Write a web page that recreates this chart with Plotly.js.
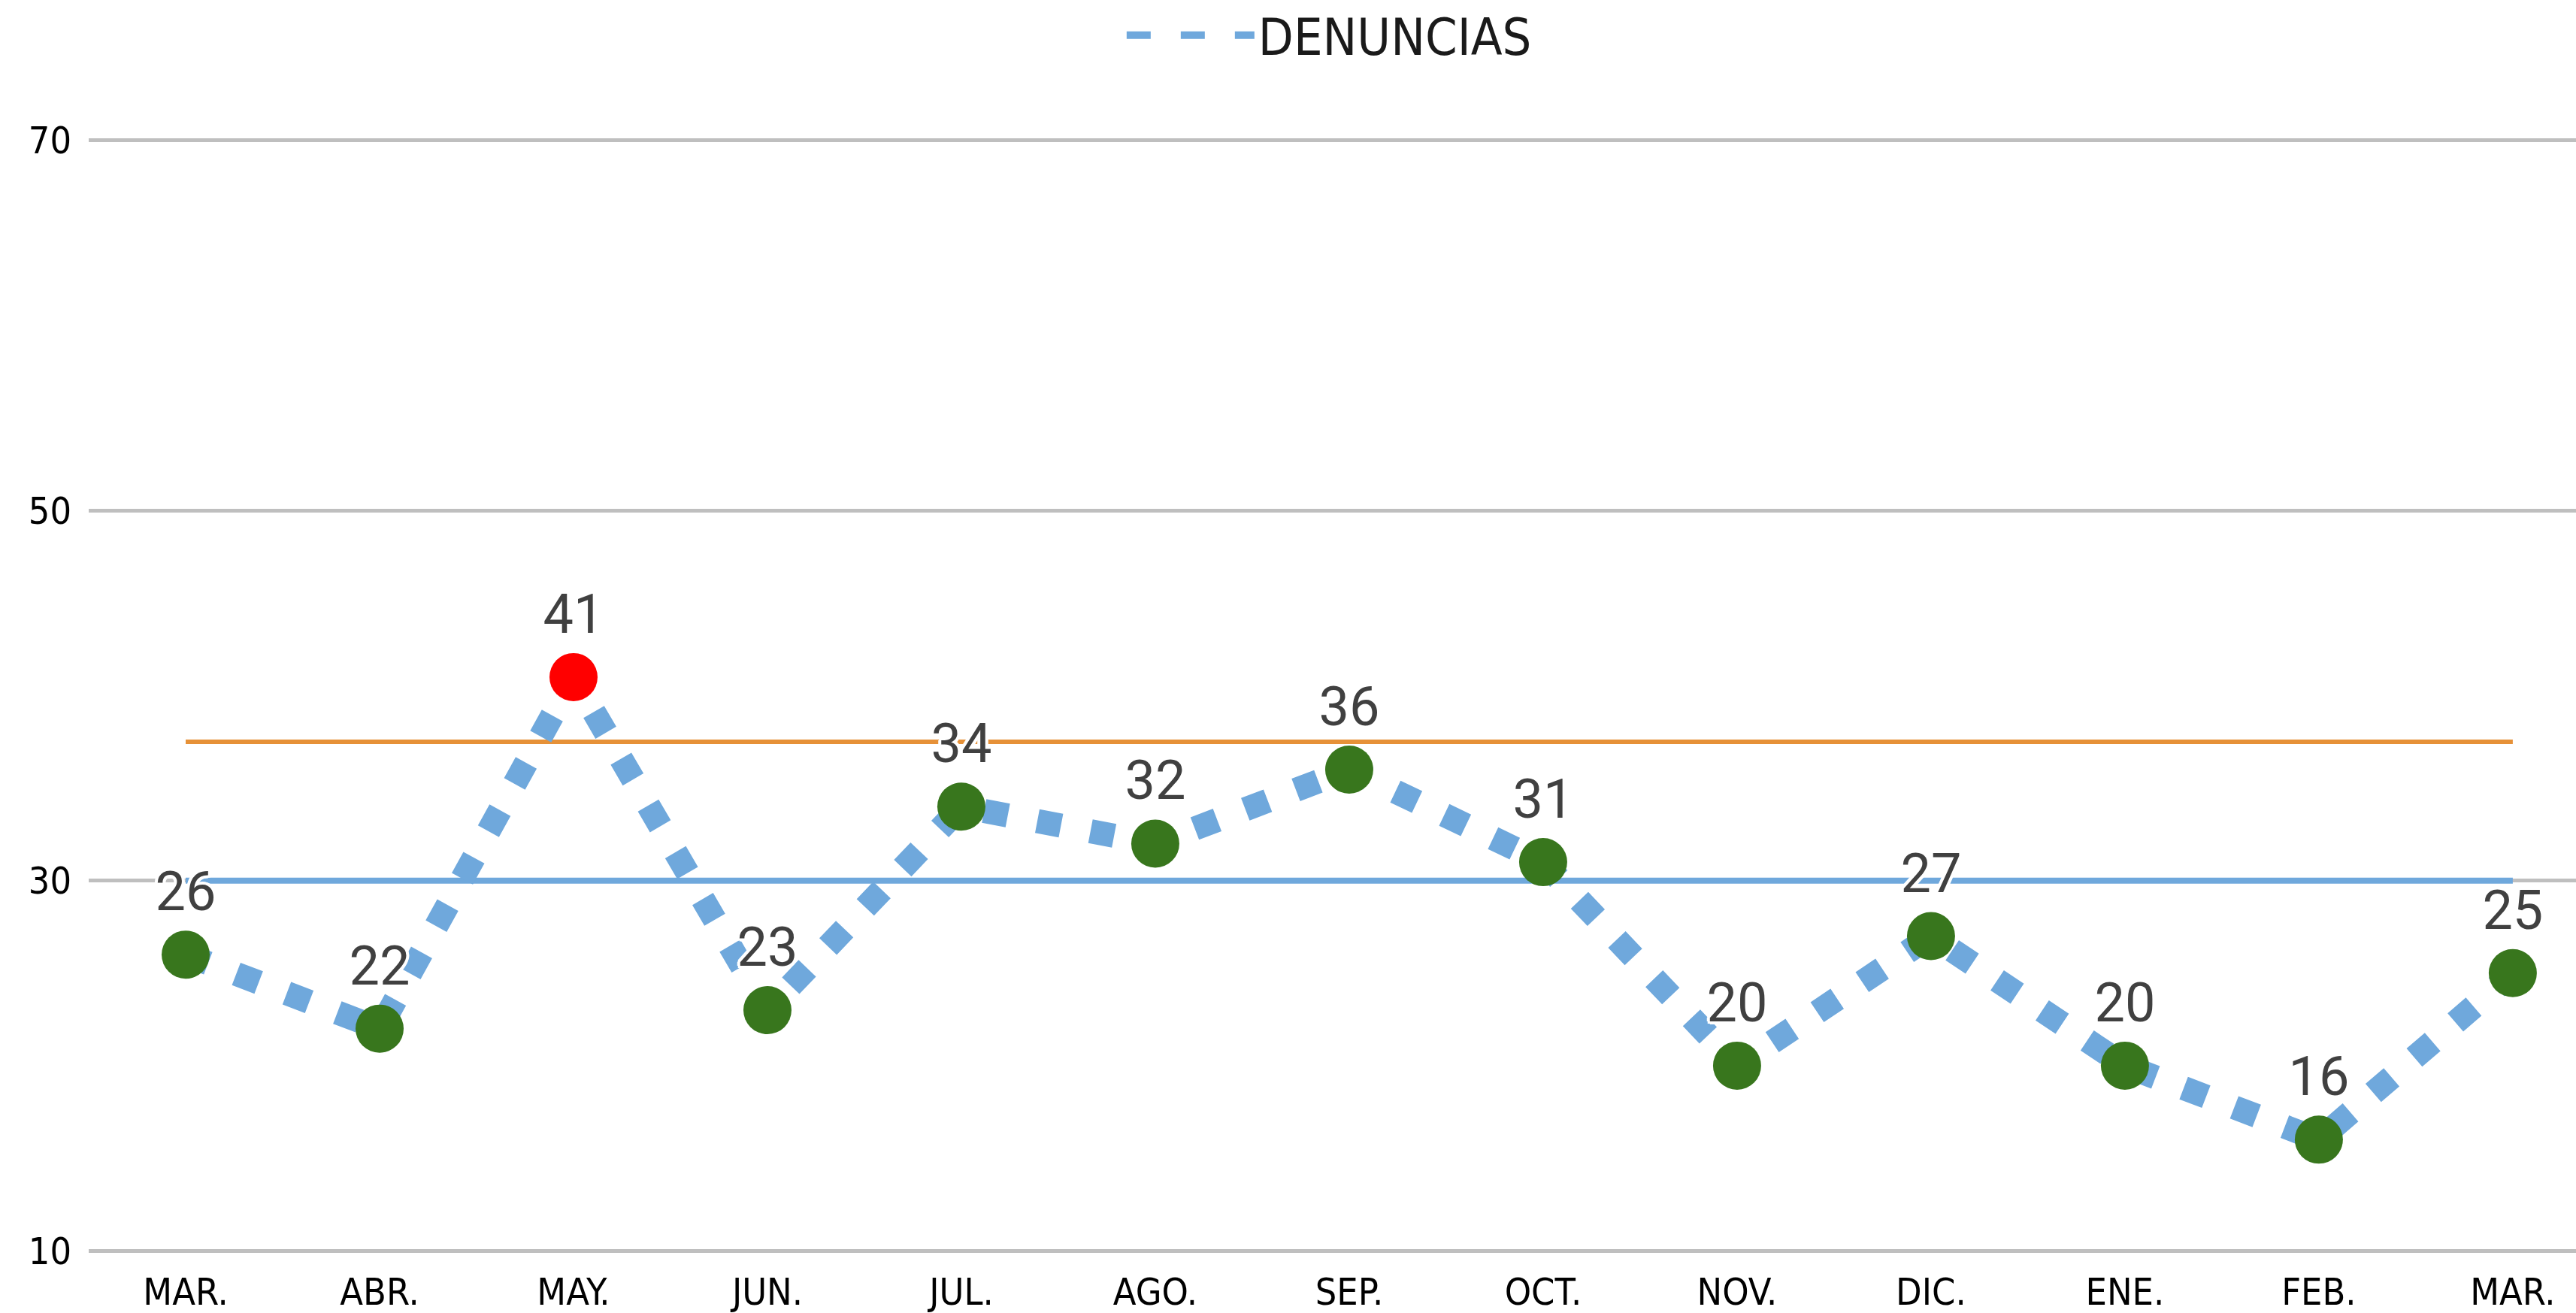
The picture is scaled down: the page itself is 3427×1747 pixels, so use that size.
<!DOCTYPE html>
<html>
<head>
<meta charset="utf-8">
<script src="https://cdn.plot.ly/plotly-3.0.1.min.js"></script>
<style>
  html, body { margin: 0; padding: 0; background: #ffffff; }
  #chart { width: 3427px; height: 1747px; }
</style>
</head>
<body>
<div id="chart"></div>
<script>
// ---- data ----
const categories = ["MAR.", "ABR.", "MAY.", "JUN.", "JUL.", "AGO.", "SEP.", "OCT.", "NOV.", "DIC.", "ENE.", "FEB.", "MAR."];
const denuncias = [26, 22, 41, 23, 34, 32, 36, 31, 20, 27, 20, 16, 25];
const lineaMedia = 30;      // blue reference line
const lineaLimite = 37.5;   // orange limit line
const yTicks = [10, 30, 50, 70];
const seriesName = "DENUNCIAS";

// ---- styling ----
const xIdx = categories.map((c, i) => i);
const pointColors = denuncias.map(v => v > lineaLimite ? "#FF0000" : "#38761D");
const tickFont = { family: "DejaVu Sans Condensed, DejaVu Sans, sans-serif", size: 50, color: "#000000" };
const halo = "4px 0 0 #fff, -4px 0 0 #fff, 0 4px 0 #fff, 0 -4px 0 #fff, 3px 3px 0 #fff, -3px -3px 0 #fff, 3px -3px 0 #fff, -3px 3px 0 #fff";

const traces = [
  {
    x: xIdx, y: xIdx.map(() => lineaMedia),
    type: "scatter", mode: "lines",
    line: { color: "#6FA8DC", width: 8 },
    showlegend: false, hoverinfo: "skip"
  },
  {
    x: xIdx, y: xIdx.map(() => lineaLimite),
    type: "scatter", mode: "lines",
    line: { color: "#E69138", width: 6 },
    showlegend: false, hoverinfo: "skip"
  },
  {
    x: xIdx, y: denuncias,
    name: seriesName,
    type: "scatter", mode: "lines",
    line: { color: "#6FA8DC", width: 32, dash: "32px,40px" },
    showlegend: true
  },
  {
    x: xIdx, y: denuncias,
    name: seriesName,
    type: "scatter", mode: "markers+text",
    marker: { color: pointColors, size: 64, line: { width: 0 } },
    text: denuncias.map(String),
    textposition: "top center",
    textfont: { family: "Roboto, sans-serif", size: 72, color: "#404040", shadow: halo },
    cliponaxis: false,
    showlegend: false
  }
];

const layout = {
  width: 3427, height: 1747,
  paper_bgcolor: "#ffffff", plot_bgcolor: "#ffffff",
  margin: { l: 118, r: 0, t: 182, b: 78, pad: 0 },
  showlegend: true,
  legend: {
    orientation: "h",
    xref: "container", yref: "container",
    x: 0.516, xanchor: "center",
    y: 0.973, yanchor: "middle",
    font: { family: "DejaVu Sans Condensed, DejaVu Sans, sans-serif", size: 68, color: "#1a1a1a" },
    itemwidth: 170,
    bgcolor: "rgba(0,0,0,0)"
  },
  xaxis: {
    type: "linear",
    range: [-0.5, 12.326],
    tickmode: "array",
    tickvals: xIdx,
    ticktext: categories,
    showgrid: false, zeroline: false, showline: false,
    ticks: "",
    tickfont: tickFont,
    ticklabelstandoff: 16,
    fixedrange: true
  },
  yaxis: {
    range: [9.8, 70.2],
    tickmode: "array",
    tickvals: yTicks,
    showgrid: true, gridcolor: "#BFBFBF", gridwidth: 5,
    zeroline: false, showline: false,
    ticks: "",
    tickfont: tickFont,
    ticklabelstandoff: 22,
    fixedrange: true
  }
};

Plotly.newPlot("chart", traces, layout, { displayModeBar: false, staticPlot: true });
</script>
</body>
</html>
